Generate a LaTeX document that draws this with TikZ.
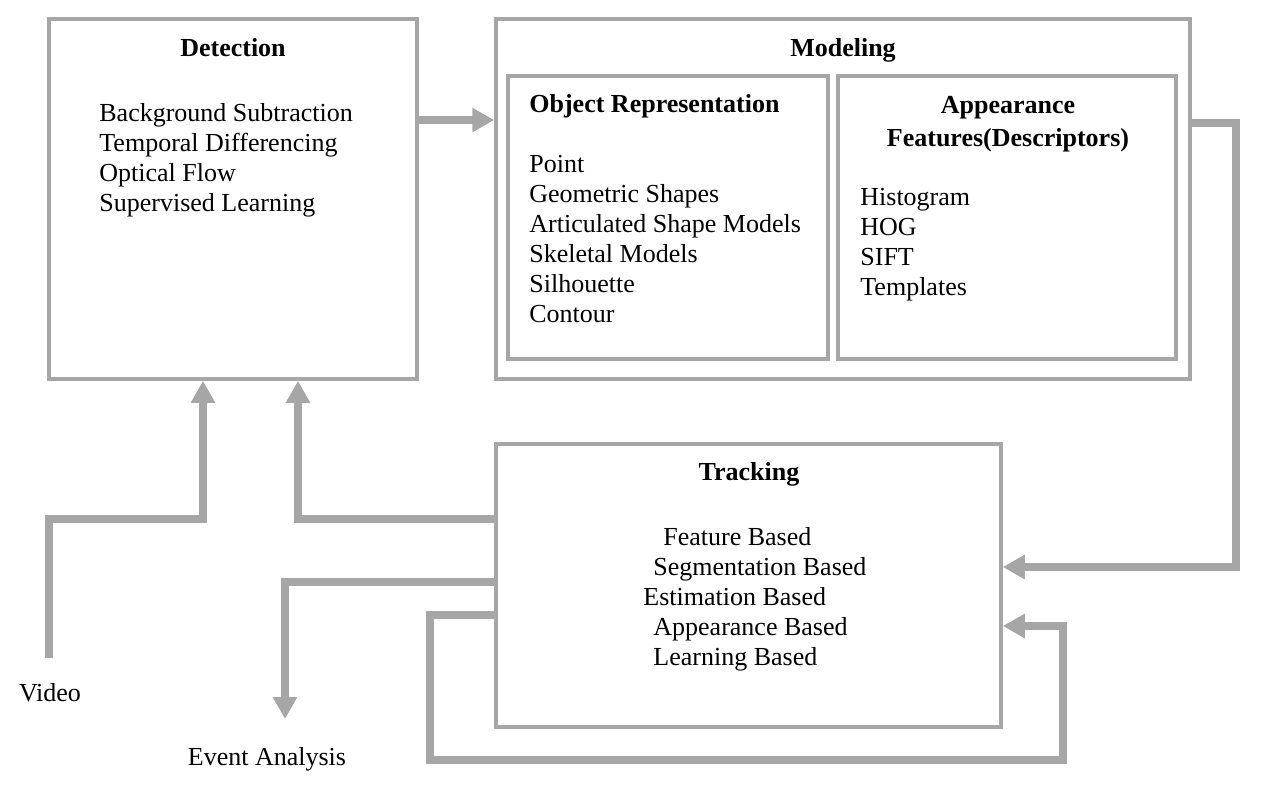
\documentclass[tikz,border=0pt]{standalone}
\usepackage{fontspec}
\setmainfont{Liberation Serif}
\usetikzlibrary{arrows.meta}
\definecolor{linegray}{HTML}{A6A6A6}
\tikzset{
  box/.style={draw=linegray, line width=1.75pt, inner sep=0pt},
  arr/.style={draw=linegray, line width=3.75pt, -{Triangle[length=11pt,width=11.5pt]}},
  txt/.style={inner sep=0pt, font=\fontsize{13}{15}\selectfont},
  head/.style={inner sep=0pt, font=\fontsize{13}{15}\selectfont\bfseries},
  list/.style={txt, align=left, anchor=base west}
}

\begin{document}
\begin{tikzpicture}[x=0.5pt, y=-0.5pt]
      \useasboundingbox (0,0) rectangle (1282,789);

      % boxes
      \node[box, minimum width=184pt, minimum height=180pt] (det) at (233,199) {};
      \node[box, minimum width=347pt, minimum height=180pt] (mod) at (843,199) {};
      \node[box, minimum width=160pt, minimum height=141.5pt] (obj) at (668,217.5) {};
      \node[box, minimum width=169pt, minimum height=141.5pt] (app) at (1007,217.5) {};
      \node[box, minimum width=252.5pt, minimum height=141.5pt] (trk) at (748.5,585.5) {};

      % headings
      \node[head, anchor=base] (dethead) at (233,56) {Detection};
      \node[head, anchor=base] (modhead) at (843,56) {Modeling};
      \node[head, anchor=base west] (objhead) at (529,112) {Object Representation};
      \node[head, anchor=base, align=center] (apphead) at (1008,146) {Appearance\\[1.5pt]Features(Descriptors)};
      \node[head, anchor=base] (trkhead) at (749,480) {Tracking};

      % lists (base = last line)
      \node[list] (detlist) at (99,211) {Background Subtraction\\Temporal Differencing\\Optical Flow\\Supervised Learning};
      \node[list] (objlist) at (529,322) {Point\\Geometric Shapes\\Articulated Shape Models\\Skeletal Models\\Silhouette\\Contour};
      \node[list] (applist) at (860,295) {Histogram\\HOG\\SIFT\\Templates};
      \node[list] (trklist) at (643,665) {\hspace*{10pt}Feature Based\\\hspace*{5pt}Segmentation Based\\Estimation Based\\\hspace*{5pt}Appearance Based\\\hspace*{5pt}Learning Based};

      % outside labels
      \node[txt, anchor=base] (video) at (50,701) {Video};
      \node[txt, anchor=base] (event) at (267,765) {Event Analysis};
      \coordinate (vidend) at (49,658);
      \coordinate (evtend) at (285,719);

      % connectors
      \draw[arr] (det.east |- 0,120) -- (mod.west |- 0,120);
      \draw[arr] (mod.east |- 0,123) -| (1236,567) -- (trk.east |- 0,567);
      \draw[arr] (vidend) |- (203,519) -- (det.south -| 203,0);
      \draw[arr] (trk.west |- 0,519) -| (det.south -| 298,0);
      \draw[arr] (trk.west |- 0,582) -| (evtend);
      \draw[arr] (trk.west |- 0,615) -- (430,615) -- (430,760) -- (1063,760) -- (1063,626) -- (trk.east |- 0,626);
\end{tikzpicture}
\end{document}
